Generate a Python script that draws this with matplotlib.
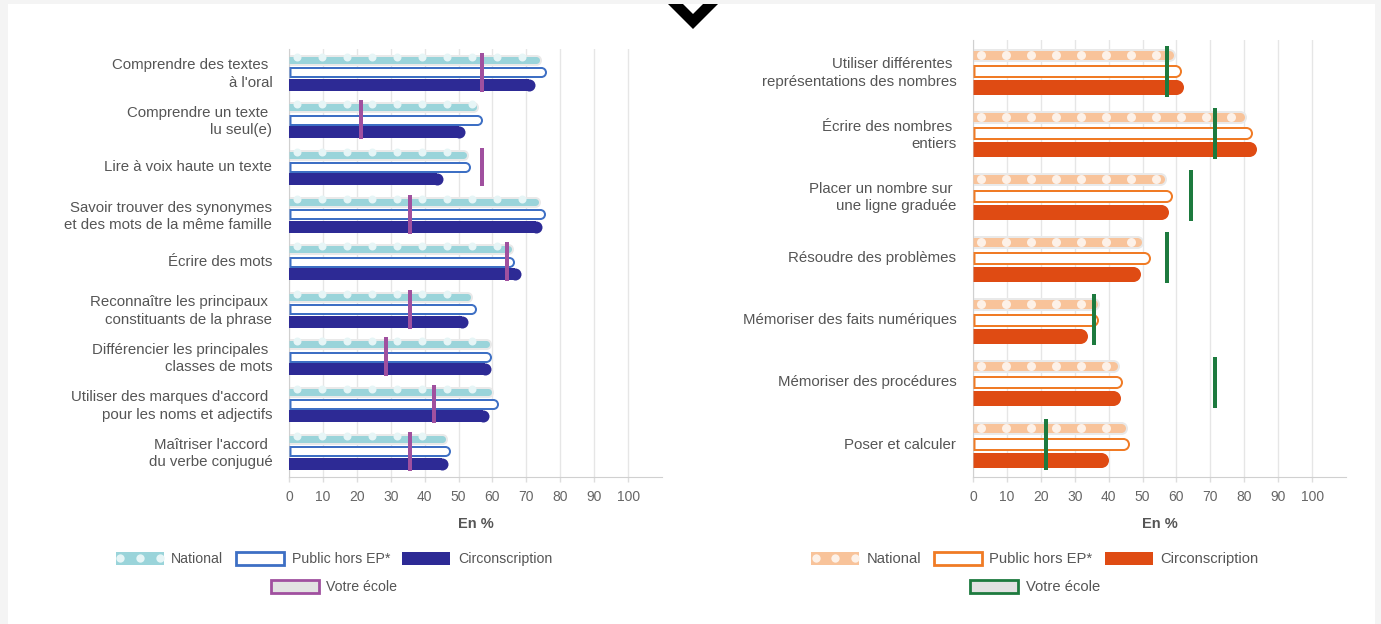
import numpy as np
import matplotlib
matplotlib.use("Agg")
import matplotlib.pyplot as plt
from matplotlib.patches import Patch, Rectangle, Polygon
from matplotlib.lines import Line2D
from matplotlib.transforms import ScaledTranslation

# figure size in pixels (dpi 100)
W, H = 1381, 624
PT = 0.72  # points per pixel

# --- français ---
fr_labels = ["Comprendre des textes \nà l'oral",
             "Comprendre un texte \nlu seul(e)",
             "Lire à voix haute un texte",
             "Savoir trouver des synonymes\net des mots de la même famille",
             "Écrire des mots",
             "Reconnaître les principaux \nconstituants de la phrase",
             "Différencier les principales \nclasses de mots",
             "Utiliser des marques d'accord \npour les noms et adjectifs",
             "Maîtriser l'accord \ndu verbe conjugué"]
fr_national = [74.0, 55.2, 52.2, 73.5, 65.7, 53.6, 59.1, 59.8, 46.2]
fr_public = [76.0, 57.1, 53.6, 75.5, 66.5, 55.2, 59.8, 61.8, 47.5]
fr_circ = [72.6, 51.9, 45.5, 74.5, 68.4, 52.7, 59.6, 59.1, 47.0]
fr_ecole = [57.0, 21.2, 57.0, 35.7, 64.4, 35.7, 28.5, 42.9, 35.7]

# --- mathématiques ---
ma_labels = ["Utiliser différentes \nreprésentations des nombres",
             "Écrire des nombres \nentiers",
             "Placer un nombre sur \nune ligne graduée",
             "Résoudre des problèmes",
             "Mémoriser des faits numériques",
             "Mémoriser des procédures",
             "Poser et calculer"]
ma_national = [59.1, 80.1, 56.5, 49.6, 36.7, 42.5, 45.0]
ma_public = [61.5, 82.3, 58.8, 52.3, 37.0, 44.0, 46.2]
ma_circ = [62.2, 83.6, 57.8, 49.4, 33.7, 43.5, 39.9]
ma_ecole = [57.1, 71.5, 64.4, 57.1, 35.8, 71.5, 21.4]

legend_labels = ["National", "Public hors EP*", "Circonscription", "Votre école"]

fr_colors = dict(nat="#9ad4da", dot="#e6f5f6", pub="#3d6fc4", circ="#2d2a95", ecole="#a0509f")
ma_colors = dict(nat="#f8c39a", dot="#fdf1e8", pub="#f07b25", circ="#df4b13", ecole="#1d7a3e")

plt.rcParams['font.family'] = ['Liberation Sans', 'DejaVu Sans']
TXT = "#555555"


def fx(px):
    return px / W


def fy(py):
    return 1 - py / H


def pill(ax, y, x0, x1, w_px, color, z):
    # butt line + round end marker, so the left side stays square
    lw = w_px * PT
    ax.plot([x0, x1], [y, y], color=color, lw=lw, solid_capstyle='butt', zorder=z)
    ax.plot([x1], [y], ls='none', marker='o', ms=lw, mew=0, color=color, zorder=z)


def panel(rect_px, band_px, labels, national, public, circ, ecole, col, sizes, dot_dy):
    x0, y0, x1, y1 = rect_px
    ax = fig.add_axes([fx(x0), fy(y1), fx(x1 - x0), (y1 - y0) / H])
    xmax = 110
    ux = xmax / (x1 - x0)  # data units per pixel
    n = len(labels)
    y = np.arange(n)
    off = 0.26
    w_nat, w_pub, w_circ, dot = sizes

    for i in range(n):
        # national : halo + band + dots
        yn = y[i] - off
        xe = national[i] - w_nat / 2 * ux
        pill(ax, yn, 0, xe, w_nat + 4, "#e9e9e9", 2)
        pill(ax, yn, 0, xe, w_nat, col["nat"], 3)
        xd = np.arange(8, (xe / ux), 25) * ux
        ax.plot(xd, np.full(len(xd), yn + dot_dy / band_px), ls='none', marker='o',
                ms=dot * PT, mew=0, color=col["dot"], zorder=4)
        # public hors EP : outlined
        yp = y[i]
        xe = public[i] - w_pub / 2 * ux
        pill(ax, yp, 0, xe, w_pub, col["pub"], 3)
        pill(ax, yp, 2 * ux, xe, w_pub - 4, "white", 4)
        # circonscription
        yc = y[i] + off
        xe = circ[i] - w_circ / 2 * ux
        pill(ax, yc, 0, xe, w_circ, col["circ"], 3)

    ax.vlines(ecole, y - 0.41, y + 0.41, color=col["ecole"], lw=4 * PT, zorder=6)

    ax.set_xlim(0, xmax)
    ax.set_ylim(-0.5 + (y1 - y0) / band_px, -0.5)
    ax.set_xticks(range(0, 101, 10))
    ax.set_yticks(y, labels, multialignment='right', linespacing=1.3)
    ax.tick_params(axis='y', length=0, pad=12, labelsize=10.8, labelcolor=TXT)
    ax.tick_params(axis='x', length=3.6, width=1, color="#dddddd", labelsize=10,
                   labelcolor="#666666", pad=6)
    for lab in ax.get_yticklabels():
        lab.set_transform(lab.get_transform() + ScaledTranslation(0, 0.012, fig.dpi_scale_trans))
    ax.grid(axis='x', color="#e6e6e6", lw=1, zorder=0)
    ax.set_axisbelow(True)
    for s in ['top', 'right']:
        ax.spines[s].set_visible(False)
    for s in ['left', 'bottom']:
        ax.spines[s].set_color("#d0d0d0")
    ax.set_xlabel("En %", fontsize=10.5, fontweight='bold', color=TXT, labelpad=9)
    return ax


def legends(cx, col, fs):
    em = fs / PT
    nat = (Patch(facecolor=col["nat"], edgecolor='none'),
           Line2D([], [], ls='none', marker='o', ms=6, mew=0, color=col["dot"]))
    pub = Patch(facecolor='white', edgecolor=col["pub"], lw=2)
    circ = Patch(facecolor=col["circ"], edgecolor='none')
    ecole = Patch(facecolor="#e2e2e2", edgecolor=col["ecole"], lw=2)
    kw = dict(loc='center', frameon=False, fontsize=fs, labelcolor=TXT,
              handlelength=48 / em, handleheight=15 / em, handletextpad=7.5 / em,
              columnspacing=12.5 / em, borderpad=0, numpoints=3)
    fig.legend([nat, pub, circ], legend_labels[:3], ncol=3,
               bbox_to_anchor=(fx(cx), fy(559)), **kw)
    fig.legend([ecole], legend_labels[3:], ncol=1,
               bbox_to_anchor=(fx(cx), fy(587)), **kw)


fig = plt.figure(figsize=(W / 100, H / 100), dpi=100)
fig.patch.set_facecolor("#f4f4f4")
fig.patches.append(Rectangle((fx(8), 0), fx(1375 - 8), fy(4), transform=fig.transFigure,
                             facecolor='white', edgecolor='none', zorder=-5))
fig.patches.append(Polygon([(fx(668), fy(4)), (fx(683), fy(4)), (fx(693), fy(14)),
                            (fx(703), fy(4)), (fx(718), fy(4)), (fx(693), fy(29))],
                           closed=True, transform=fig.transFigure,
                           facecolor='black', edgecolor='none', zorder=5))

panel((289, 48.5, 662, 477), 47.4, fr_labels, fr_national, fr_public, fr_circ, fr_ecole,
      fr_colors, (7, 11, 12, 8), -3)
panel((973, 40, 1346, 477), 62.2, ma_labels, ma_national, ma_public, ma_circ, ma_ecole,
      ma_colors, (9, 13, 15, 9), 0)

legends(334, fr_colors, 10.2)
legends(1035, ma_colors, 10.6)

fig.savefig("out.png", dpi=100, facecolor=fig.get_facecolor())
